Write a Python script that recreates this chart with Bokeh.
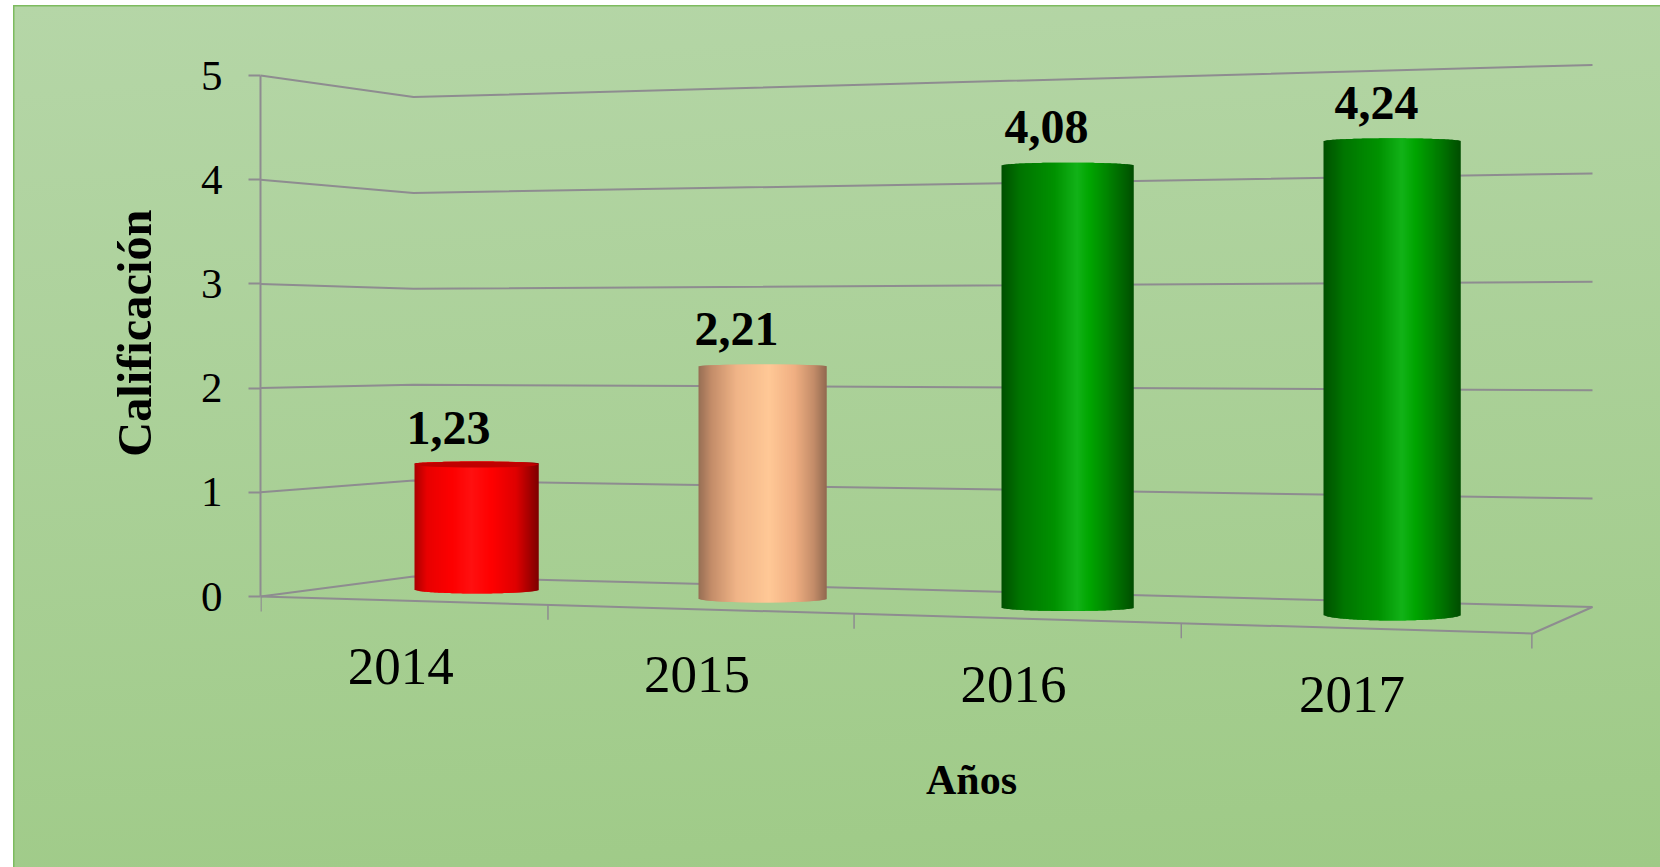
from bokeh.plotting import figure
from bokeh.embed import file_html
from bokeh.resources import INLINE
from bokeh.core.properties import value as V
from bokeh.models import Range1d, FixedTicker, Title
import math

# ---- chart data ----
categories = ["2014", "2015", "2016", "2017"]
calificacion = [1.23, 2.21, 4.08, 4.24]
y_ticks = [0, 1, 2, 3, 4, 5]
y_title = "Calificación"
x_title = "Años"

# ---- colour stops across each cylinder (position, colour) ----
red_stops = [(0, (170, 0, 0)), (.1, (232, 0, 0)), (.3, (253, 0, 0)), (.46, (255, 16, 16)), (.62, (255, 0, 0)), (.82, (222, 0, 0)), (1, (125, 0, 0))]
peach_stops = [(0, (150, 110, 84)), (.1, (195, 140, 105)), (.3, (240, 180, 135)), (.55, (255, 200, 150)), (.75, (240, 175, 130)), (.9, (195, 140, 105)), (1, (145, 105, 80))]
green_stops = [(0, (0, 80, 0)), (.15, (0, 118, 0)), (.4, (0, 145, 0)), (.57, (18, 178, 24)), (.67, (0, 165, 0)), (.85, (0, 120, 0)), (1, (0, 78, 0))]
bar_stops = [red_stops, peach_stops, green_stops, green_stops]

# ---- layout of the oblique 3-D view, in page pixels ----
W, H = 1660, 867
AXIS_X, ZERO_Y, UNIT = 260, 596, 104.2
KINK_X, KINK_ZERO, KINK_UNIT = 413, 576, 95.9
RIGHT_X, RIGHT_ZERO, RIGHT_UNIT = 1592, 606.5, 108.4
FRONT_RIGHT_X, FRONT_RIGHT_Y = 1532, 633
BAR_CX = [476, 762, 1067, 1392]
BAR_W = [124, 128, 132, 137]
BAR_BASE = [589, 598, 607, 614]
BAR_UNIT = [102.4, 105, 108.3, 111.6]
BULGE = [4, 4, 3.5, 6]
TOP_BULGE = [2, 2, 3, 3]
LABEL_DX = [-28, -26, -21, -16]
LABEL_LIFT = [36, 37, 39, 38]
LABEL_DROP = [65.5, 65.5, 66.5, 66.5]
GRID_COLOR = "#8E8C90"
SERIF = "Liberation Serif"


def vy(py):
    """page-pixel height expressed on the value scale of the left axis"""
    return (ZERO_Y - py) / UNIT


def front_x(u):
    return AXIS_X + 278 * u / (1 - 0.03125 * u)


def front_y(px):
    return ZERO_Y + (FRONT_RIGHT_Y - ZERO_Y) * (px - AXIS_X) / (FRONT_RIGHT_X - AXIS_X)


def shade(stops, t):
    for (a, ca), (b, cb) in zip(stops, stops[1:]):
        if t <= b:
            f = (t - a) / (b - a)
            return "#%02x%02x%02x" % tuple(round(x + (y - x) * f) for x, y in zip(ca, cb))
    return "#%02x%02x%02x" % stops[-1][1]


p = figure(width=W, height=H, output_backend="svg", toolbar_location=None,
           x_range=Range1d(AXIS_X, W), y_range=Range1d(vy(H), vy(0)),
           x_axis_location=None, min_border_left=AXIS_X, min_border_right=0,
           min_border_top=0, min_border_bottom=0, outline_line_color=None,
           background_fill_color=None, border_fill_color=None)
p.grid.visible = False
G = "#7DBB5F"
p.styles = {
    "position": "absolute", "left": "0", "top": "0",
    "background": (f"linear-gradient({G},{G}) 13px 5px / 1647px 1.5px no-repeat,"
                   f"linear-gradient({G},{G}) 13px 5px / 1.5px 862px no-repeat,"
                   "linear-gradient(176deg,#B5D6A7,#9ECA86) 14px 6px / 1646px 861px no-repeat,#ffffff"),
}

ax = p.yaxis[0]
ax.ticker = FixedTicker(ticks=y_ticks)
ax.bounds = (0, 5)
ax.axis_line_color = GRID_COLOR
ax.axis_line_width = 2
ax.major_tick_line_color = GRID_COLOR
ax.major_tick_line_width = 2
ax.major_tick_in = 0
ax.major_tick_out = 12
ax.minor_tick_line_color = None
ax.major_label_text_font = SERIF
ax.major_label_text_font_size = "43px"
ax.major_label_text_color = "#000000"
ax.major_label_standoff = 26

# wall and floor lines
for v in y_ticks:
    p.line([AXIS_X, KINK_X, RIGHT_X],
           [v, vy(KINK_ZERO - v * KINK_UNIT), vy(RIGHT_ZERO - v * RIGHT_UNIT)],
           line_color=GRID_COLOR, line_width=2)
p.line([AXIS_X, FRONT_RIGHT_X, RIGHT_X], [0, vy(FRONT_RIGHT_Y), vy(RIGHT_ZERO)],
       line_color=GRID_COLOR, line_width=2)

# ticks on the front edge of the floor
for i in range(len(categories) + 1):
    tx = front_x(i)
    ty = front_y(tx)
    p.line([tx + 0.5, tx + 0.5], [vy(ty), vy(ty + 15)], line_color=GRID_COLOR, line_width=1.5)

# category labels
p.text([front_x(i + .5) - 1 for i in range(len(categories))],
       [vy(front_y(front_x(i + .5)) + LABEL_DROP[i]) for i in range(len(categories))],
       text=categories, text_font=V(SERIF), text_font_size="53px", text_color="#000000",
       text_align="center", text_baseline="middle")

# cylinders: overlapping pixel strips so no seam lets the background through
for i, val in enumerate(calificacion):
    cx, w, base = BAR_CX[i], BAR_W[i], BAR_BASE[i]
    edge_top = base - val * BAR_UNIT[i]
    x0 = math.floor(cx - w / 2)
    left, right, top, bottom, col = [], [], [], [], []
    for k in range(w):
        t = (k + .5) / w
        arc = math.sqrt(max(0, 1 - (2 * t - 1) ** 2))
        left.append(x0 + k)
        right.append(x0 + k + (2 if k < w - 1 else 1))
        top.append(vy(edge_top - TOP_BULGE[i] * arc))
        bottom.append(vy(base + BULGE[i] * arc))
        col.append(shade(bar_stops[i], t))
    p.quad(left=left, right=right, top=top, bottom=bottom, fill_color=col, line_color=None)
    if i == 0:
        p.ellipse([cx], [vy(edge_top + 1)], width=[w], height=[6 / UNIT], fill_color="#C00000", line_color=None)

# value labels
p.text([BAR_CX[i] + LABEL_DX[i] for i in range(4)],
       [vy(BAR_BASE[i] - v * BAR_UNIT[i] - LABEL_LIFT[i]) for i, v in enumerate(calificacion)],
       text=[f"{v:.2f}".replace(".", ",") for v in calificacion],
       text_font=V(SERIF), text_font_size="48px", text_font_style="bold", text_color="#000000",
       text_align="center", text_baseline="middle")

# axis titles
p.text([971], [vy(779)], text=[x_title], text_font=V(SERIF), text_font_size="42px",
       text_font_style="bold", text_color="#000000", text_align="center", text_baseline="middle")
p.add_layout(Title(text=y_title, align="right", offset=209, vertical_align="top", standoff=69,
                   text_font=SERIF, text_font_size="48.4px", text_font_style="bold", text_color="#000000"),
             "left")

open("out.html", "w").write(file_html(p, INLINE))
